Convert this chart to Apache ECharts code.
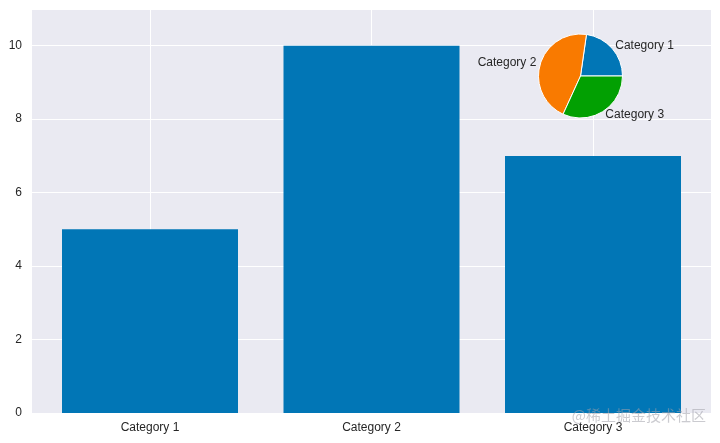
<!DOCTYPE html>
<html>
<head>
<meta charset="utf-8">
<script src="https://cdn.jsdelivr.net/npm/echarts@6/dist/echarts.min.js"></script>
<style>html,body{margin:0;padding:0;background:#fff;}#c{width:720px;height:443px;}</style>
</head>
<body>
<div id="c"></div>
<script>
var categories = ['Category 1', 'Category 2', 'Category 3'];
var barValues = [5, 10, 7];
var pieValues = [5, 10, 7];
var yTicks = [0, 2, 4, 6, 8, 10];

var blue = '#0176B6', orange = '#F97A00', green = '#02A002';
var textColor = '#262626';
var font = 'Liberation Sans, Arial, sans-serif';

var chart = echarts.init(document.getElementById('c'), null, {renderer: 'canvas'});
chart.setOption({
  animation: false,
  backgroundColor: '#ffffff',
  grid: [
    {left: 32, right: 9, top: 9, bottom: 30, show: true, backgroundColor: '#EAEAF2', borderWidth: 0, containLabel: false},
    {left: 150, right: 127, top: 9, bottom: 30, containLabel: false}
  ],
  xAxis: [
    {gridIndex: 0, type: 'value', min: 0, max: 1, show: false},
    {gridIndex: 1, type: 'value', min: 0, max: categories.length - 1, interval: 1,
      axisLine: {show: false}, axisTick: {show: false},
      splitLine: {show: true, lineStyle: {color: '#ffffff', width: 1}},
      axisLabel: {color: textColor, fontSize: 12, fontFamily: font, margin: 9,
        formatter: function (v) { return categories[v] || ''; }}}
  ],
  yAxis: [
    {gridIndex: 0, type: 'value', min: 0, max: 11, interval: 2,
      axisLine: {show: false}, axisTick: {show: false},
      splitLine: {show: true, lineStyle: {color: '#ffffff', width: 1}},
      axisLabel: {color: textColor, fontSize: 12, fontFamily: font, margin: 10,
        formatter: function (v) { return yTicks.indexOf(v) >= 0 ? String(v) : ''; }}},
    {gridIndex: 1, type: 'value', min: 0, max: 11, show: false}
  ],
  series: [
    {type: 'bar', xAxisIndex: 1, yAxisIndex: 1, clip: false, barWidth: 176,
      itemStyle: {color: blue},
      data: barValues.map(function (v, i) { return [i, v]; })},
    {type: 'pie', center: [580.5, 76], radius: 42, startAngle: 0, clockwise: false,
      avoidLabelOverlap: false, z: 10,
      itemStyle: {borderColor: '#ffffff', borderWidth: 1},
      label: {show: true, position: 'outside', color: textColor, fontSize: 12, fontFamily: font, distanceToLabelLine: 0},
      labelLine: {show: false, length: 4, length2: 0},
      data: pieValues.map(function (v, i) {
        return {name: categories[i], value: v, itemStyle: {color: [blue, orange, green][i]}};
      })}
  ],
  graphic: [
    {type: 'text', right: 14, top: 408, z: 100,
      style: {text: '@稀土掘金技术社区', fill: 'rgba(160,160,170,0.55)', fontSize: 15, fontFamily: 'Noto Sans CJK SC, sans-serif'}}
  ]
});
</script>
</body>
</html>
